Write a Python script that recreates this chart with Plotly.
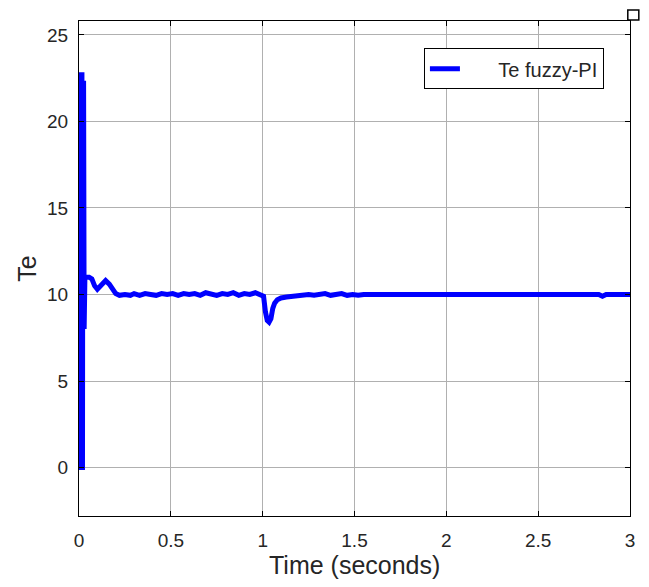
import plotly.graph_objects as go

# Time (s) and electromagnetic torque Te
time_s = [0.0, 0.011, 0.013, 0.016, 0.017, 0.019, 0.021, 0.025, 0.028, 0.032,
          0.04, 0.055, 0.07, 0.085, 0.10, 0.12, 0.145, 0.165, 0.18, 0.20, 0.22,
          0.25, 0.28, 0.30, 0.33, 0.36, 0.39, 0.42, 0.45, 0.48, 0.51, 0.54,
          0.57, 0.60, 0.63, 0.66, 0.69, 0.72, 0.75, 0.78, 0.81, 0.84, 0.87,
          0.90, 0.93, 0.96, 0.99, 1.005, 1.015, 1.025, 1.035, 1.045, 1.055,
          1.065, 1.08, 1.10, 1.13, 1.16, 1.19, 1.22, 1.25, 1.28, 1.31, 1.34,
          1.37, 1.40, 1.43, 1.46, 1.49, 1.52, 1.55, 1.8, 2.1, 2.4, 2.83,
          2.85, 2.87, 3.0]
te_values = [0.0, 0.0, 22.7, 22.7, 0.0, 0.0, 22.2, 22.2, 8.0, 10.9,
             11.0, 11.0, 10.9, 10.5, 10.3, 10.5, 10.8, 10.6, 10.3, 10.05, 9.95,
             10.0, 9.95, 10.05, 9.95, 10.05, 10.0, 9.95, 10.05, 10.0, 10.05, 9.95,
             10.05, 10.0, 10.05, 9.95, 10.1, 10.0, 9.95, 10.05, 10.0, 10.1, 9.95,
             10.05, 10.0, 10.1, 10.0, 9.9, 9.0, 8.5, 8.4, 8.6, 9.2,
             9.5, 9.7, 9.8, 9.85, 9.9, 9.95, 9.95, 10.0, 9.95, 10.0, 10.05,
             9.95, 10.0, 10.05, 9.95, 10.0, 9.95, 10.0, 10.0, 10.0, 10.0, 10.0,
             9.9, 10.0, 10.0]

x_ticks = [0, 0.5, 1, 1.5, 2, 2.5, 3]
x_tick_text = ["0", "0.5", "1", "1.5", "2", "2.5", "3"]
y_ticks = [0, 5, 10, 15, 20, 25]

FONT = "Liberation Sans, Arial"
TXT = "#262626"

fig = go.Figure()
fig.add_trace(go.Scatter(
    x=time_s, y=te_values, mode="lines",
    name="\u00a0\u00a0\u00a0\u00a0\u00a0\u00a0Te fuzzy-PI",
    line=dict(color="#0000FF", width=5, shape="linear"),
))

axis_common = dict(
    showline=True, linecolor="black", linewidth=1, mirror="ticks",
    ticks="inside", ticklen=5, tickcolor="black",
    showgrid=True, gridcolor="#b0b0b0", gridwidth=1, zeroline=False,
    tickfont=dict(family=FONT, size=19, color=TXT),
)

fig.update_layout(
    width=649, height=587,
    margin=dict(l=79, r=19, t=21, b=71),
    paper_bgcolor="white", plot_bgcolor="white",
    font=dict(family=FONT, color=TXT),
    xaxis=dict(range=[0, 3], tickvals=x_ticks, ticktext=x_tick_text,
               ticklabelstandoff=7,
               **axis_common),
    yaxis=dict(range=[-2.8, 25.8], tickvals=y_ticks,
               ticklabelstandoff=6,
               title=dict(text="Te", font=dict(size=25, color=TXT), standoff=3),
               **axis_common),
    showlegend=True,
    legend=dict(x=0.626, y=0.945, xanchor="left", yanchor="top",
                bgcolor="white", bordercolor="black", borderwidth=1,
                font=dict(size=20, color=TXT)),
    annotations=[dict(text="Time (seconds)", xref="paper", yref="paper",
                      x=0.5, y=-0.099, xanchor="center", yanchor="middle",
                      showarrow=False, font=dict(size=25, color=TXT, family=FONT))],
    shapes=[dict(type="rect", xref="paper", yref="paper", x0=0.996, x1=1.016,
                 y0=1.002, y1=1.022, line=dict(color="black", width=1.5),
                 fillcolor="white")],
)

fig.write_html("out.html")
